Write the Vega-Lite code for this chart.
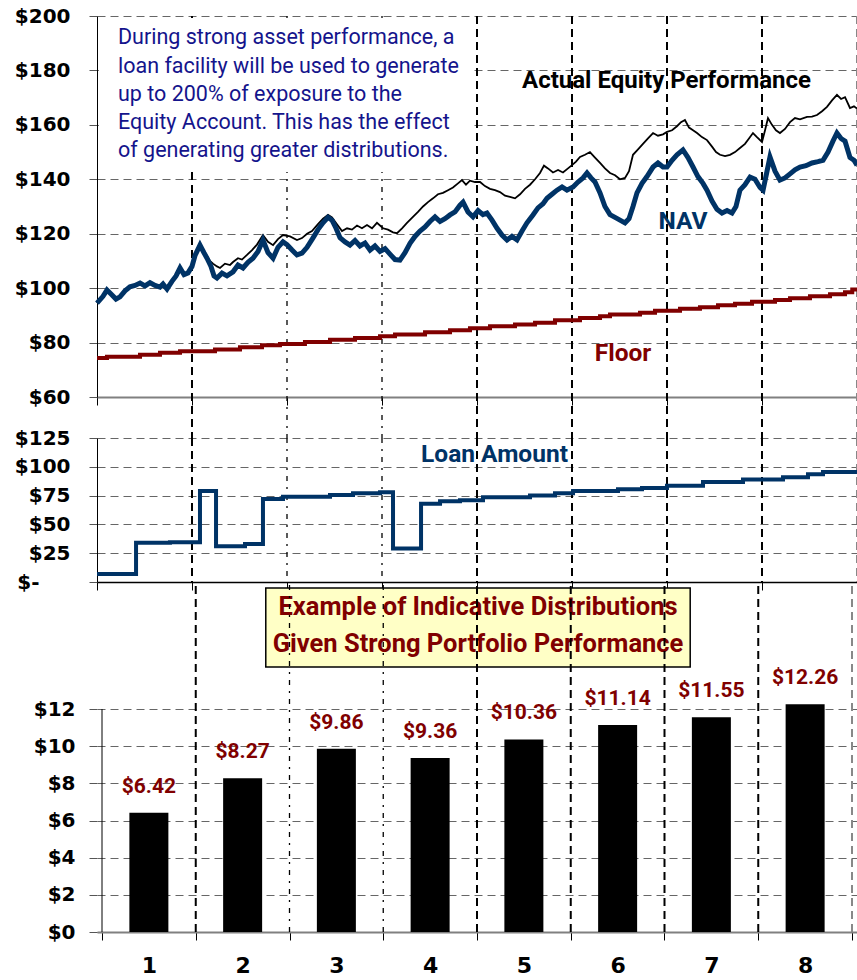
{
  "$schema": "https://vega.github.io/schema/vega-lite/v6.json",
  "padding": {"left": 14, "top": 6, "right": 0, "bottom": 0},
  "background": "white",
  "config": {
    "view": {"stroke": null},
    "axis": {"domainColor": "#000", "tickColor": "#000", "labelColor": "#000", "labelFont": "DejaVu Sans", "labelFontWeight": "bold", "labelFontSize": 20, "title": null},
    "text": {"font": "Roboto"}
  },
  "datasets": {
    "vl": [
      {"t": 1, "yr": 1.5, "top1": 200, "top2": 44.9, "mid1": 125, "mid2": 0, "bot1": 0, "bot2": 18.84},
      {"t": 2, "yr": 2.5, "top1": 200, "top2": 44.9, "mid1": 125, "mid2": 0, "bot1": 0, "bot2": 18.84},
      {"t": 3, "yr": 3.5, "top1": 200, "top2": 44.9, "mid1": 125, "mid2": 0, "bot1": 0, "bot2": 18.84},
      {"t": 4, "yr": 4.5, "top1": 200, "top2": 44.9, "mid1": 125, "mid2": 0, "bot1": 0, "bot2": 18.84},
      {"t": 5, "yr": 5.5, "top1": 200, "top2": 44.9, "mid1": 125, "mid2": 0, "bot1": 0, "bot2": 18.84},
      {"t": 6, "yr": 6.5, "top1": 200, "top2": 44.9, "mid1": 125, "mid2": 0, "bot1": 0, "bot2": 18.84},
      {"t": 7, "yr": 7.5, "top1": 200, "top2": 44.9, "mid1": 125, "mid2": 0, "bot1": 0, "bot2": 18.84},
      {"t": 8, "yr": 8.5, "top1": 200, "top2": 44.9, "mid1": 125, "mid2": 0, "bot1": 0, "bot2": 18.84}
    ],
    "yaxis": [{"yr": 0.5, "lo": 0, "hi": 12}],
    "notebox": [{"x0": 0.02, "x1": 3.947, "y0": 199.3, "y1": 142.7}],
    "notes": [
      {"kind": "note", "t": 0.221, "v": 189.7, "label": "During strong asset performance, a"},
      {"kind": "note", "t": 0.221, "v": 179.1, "label": "loan facility will be used to generate"},
      {"kind": "note", "t": 0.221, "v": 168.8, "label": "up to 200% of exposure to the"},
      {"kind": "note", "t": 0.221, "v": 158.5, "label": "Equity Account. This has the effect"},
      {"kind": "note", "t": 0.221, "v": 148.2, "label": "of generating greater distributions."},
      {"kind": "eq", "t": 5.995, "v": 173.5, "label": "Actual Equity Performance"},
      {"kind": "nav", "t": 6.168, "v": 121.7, "label": "NAV"},
      {"kind": "floor", "t": 5.537, "v": 73.2, "label": "Floor"},
      {"kind": "loan", "t": 4.184, "v": 104.2, "label": "Loan Amount"}
    ],
    "box": [{"x0": 2.247, "x1": 6.774, "y0": 18.51, "y1": 14.26}],
    "boxtext": [
      {"yr": 4.511, "dist": 17.06, "label": "Example of Indicative Distributions"},
      {"yr": 4.511, "dist": 15.09, "label": "Given Strong Portfolio Performance"}
    ],
    "dist": [{"year": 1, "dist": 6.42}, {"year": 2, "dist": 8.27}, {"year": 3, "dist": 9.86}, {"year": 4, "dist": 9.36}, {"year": 5, "dist": 10.36}, {"year": 6, "dist": 11.14}, {"year": 7, "dist": 11.55}, {"year": 8, "dist": 12.26}],
    "nav": [
      {"t":0,"v":94.5},{"t":0.063,"v":97},{"t":0.105,"v":99.3},{"t":0.158,"v":97.5},{"t":0.2,"v":96},{"t":0.242,"v":96.8},{"t":0.295,"v":99},{"t":0.347,"v":100.5},{"t":0.4,"v":101},{"t":0.453,"v":101.9},{"t":0.505,"v":100.8},{"t":0.558,"v":102},{"t":0.611,"v":101},{"t":0.663,"v":100.4},{"t":0.695,"v":101.5},{"t":0.737,"v":99.7},{"t":0.789,"v":102.5},{"t":0.832,"v":104.5},{"t":0.874,"v":107.4},{"t":0.916,"v":105},{"t":0.958,"v":105.6},{"t":1.0,"v":108},{"t":1.032,"v":112},{"t":1.084,"v":115.8},
      {"t":1.126,"v":113},{"t":1.158,"v":111},{"t":1.2,"v":108},{"t":1.232,"v":104.5},{"t":1.263,"v":103.7},{"t":1.316,"v":105.5},{"t":1.368,"v":104.5},{"t":1.432,"v":106},{"t":1.484,"v":108.5},{"t":1.537,"v":107.4},{"t":1.589,"v":109.5},{"t":1.642,"v":111},{"t":1.695,"v":113.5},{"t":1.747,"v":117.7},{"t":1.8,"v":113},{"t":1.853,"v":111},{"t":1.905,"v":115},{"t":1.958,"v":117},{"t":2.0,"v":116},{"t":2.053,"v":114},{"t":2.105,"v":112.2},{"t":2.158,"v":112.9},{"t":2.211,"v":115},{"t":2.274,"v":118.5},{"t":2.326,"v":121.5},{"t":2.379,"v":124},{"t":2.432,"v":126},{"t":2.474,"v":125},{"t":2.516,"v":122},{"t":2.558,"v":118.5},{"t":2.611,"v":117},{"t":2.663,"v":115.8},{"t":2.716,"v":117.5},{"t":2.768,"v":115.5},{"t":2.821,"v":116.6},{"t":2.874,"v":114},{"t":2.926,"v":115.5},{"t":2.979,"v":113.5},{"t":3.032,"v":114.5},{"t":3.084,"v":112.5},{"t":3.137,"v":110.5},{"t":3.189,"v":110.3},{"t":3.242,"v":113},{"t":3.295,"v":116.5},{"t":3.347,"v":119},{"t":3.4,"v":121},{"t":3.453,"v":122.5},{"t":3.505,"v":124.5},{"t":3.558,"v":126.2},{"t":3.611,"v":124.5},{"t":3.663,"v":125.5},{"t":3.716,"v":126.9},{"t":3.768,"v":128},{"t":3.821,"v":130.5},{"t":3.853,"v":131.6},{"t":3.905,"v":128},{"t":3.958,"v":126.2},{"t":4.011,"v":128.5},{"t":4.063,"v":127},{"t":4.105,"v":127.6},{"t":4.158,"v":125},{"t":4.211,"v":122},{"t":4.263,"v":119.5},{"t":4.316,"v":117.7},{"t":4.368,"v":119},{"t":4.421,"v":117.7},{"t":4.474,"v":121},{"t":4.526,"v":124},{"t":4.589,"v":126.9},{"t":4.642,"v":129.5},{"t":4.695,"v":131},{"t":4.737,"v":133},{"t":4.789,"v":134.5},{"t":4.842,"v":136},{"t":4.895,"v":137.2},{"t":4.947,"v":136},{"t":5.011,"v":137.2},{"t":5.063,"v":139},{"t":5.116,"v":140.5},{"t":5.158,"v":142.3},{"t":5.2,"v":140.5},{"t":5.242,"v":139},{"t":5.295,"v":135},{"t":5.347,"v":130},{"t":5.4,"v":127},{"t":5.453,"v":126},{"t":5.505,"v":125},{"t":5.558,"v":124},{"t":5.6,"v":125.5},{"t":5.642,"v":130},{"t":5.684,"v":135},{"t":5.737,"v":138.5},{"t":5.789,"v":141},{"t":5.853,"v":144.5},{"t":5.905,"v":146},{"t":5.958,"v":144.5},{"t":6.0,"v":144.5},{"t":6.053,"v":147},{"t":6.105,"v":149},{"t":6.168,"v":150.8},{"t":6.221,"v":148},{"t":6.274,"v":144.5},{"t":6.326,"v":141},{"t":6.379,"v":138.5},{"t":6.421,"v":136},{"t":6.474,"v":132},{"t":6.526,"v":129},{"t":6.579,"v":127.6},{"t":6.632,"v":128.5},{"t":6.684,"v":127.6},{"t":6.726,"v":130},{"t":6.768,"v":136},{"t":6.821,"v":138},{"t":6.874,"v":140.8},{"t":6.926,"v":140},{"t":6.979,"v":137},{"t":7.011,"v":136},{"t":7.053,"v":143},{"t":7.084,"v":148.2},{"t":7.137,"v":143},{"t":7.189,"v":139.7},{"t":7.242,"v":140.5},{"t":7.295,"v":142},{"t":7.347,"v":143.5},{"t":7.4,"v":144.5},{"t":7.463,"v":145},{"t":7.526,"v":146},{"t":7.589,"v":146.5},{"t":7.642,"v":147},{"t":7.695,"v":150},{"t":7.747,"v":154},{"t":7.789,"v":157},{"t":7.832,"v":155},{"t":7.874,"v":154},{"t":7.926,"v":148},{"t":7.968,"v":147},{"t":8.0,"v":145.2}
    ],
    "eq": [
      {"t":0,"v":94.5},{"t":0.063,"v":97},{"t":0.105,"v":99.3},{"t":0.158,"v":97.5},{"t":0.2,"v":96},{"t":0.242,"v":96.8},{"t":0.295,"v":99},{"t":0.347,"v":100.5},{"t":0.4,"v":101},{"t":0.453,"v":101.9},{"t":0.505,"v":100.8},{"t":0.558,"v":102},{"t":0.611,"v":101},{"t":0.663,"v":100.4},{"t":0.695,"v":101.5},{"t":0.737,"v":99.7},{"t":0.789,"v":102.5},{"t":0.832,"v":104.5},{"t":0.874,"v":107.4},{"t":0.916,"v":105},{"t":0.958,"v":105.6},{"t":1.0,"v":108},{"t":1.032,"v":112},{"t":1.084,"v":115.8},
      {"t":1.137,"v":113},{"t":1.189,"v":110},{"t":1.221,"v":109},{"t":1.263,"v":108},{"t":1.295,"v":107.4},{"t":1.347,"v":109},{"t":1.4,"v":108.5},{"t":1.432,"v":109.6},{"t":1.484,"v":111},{"t":1.526,"v":110.5},{"t":1.579,"v":112.2},{"t":1.632,"v":114},{"t":1.684,"v":116},{"t":1.747,"v":119.5},{"t":1.8,"v":117},{"t":1.853,"v":115.8},{"t":1.905,"v":118},{"t":1.958,"v":119.5},{"t":2.032,"v":119},{"t":2.105,"v":117.7},{"t":2.158,"v":118.4},{"t":2.211,"v":120},{"t":2.263,"v":121},{"t":2.326,"v":123.5},{"t":2.379,"v":125.5},{"t":2.432,"v":126.9},{"t":2.474,"v":126},{"t":2.526,"v":123.5},{"t":2.579,"v":121},{"t":2.632,"v":122},{"t":2.684,"v":121.5},{"t":2.737,"v":123},{"t":2.789,"v":122},{"t":2.842,"v":123.2},{"t":2.895,"v":122},{"t":2.947,"v":124},{"t":3.011,"v":122},{"t":3.063,"v":121.5},{"t":3.116,"v":120.5},{"t":3.158,"v":120.2},{"t":3.211,"v":122},{"t":3.263,"v":124},{"t":3.326,"v":126.2},{"t":3.379,"v":128},{"t":3.432,"v":130},{"t":3.484,"v":131.6},{"t":3.537,"v":133},{"t":3.589,"v":134.5},{"t":3.642,"v":135},{"t":3.695,"v":136},{"t":3.747,"v":137},{"t":3.8,"v":138.5},{"t":3.842,"v":139.7},{"t":3.884,"v":138},{"t":3.926,"v":139.5},{"t":3.979,"v":139},{"t":4.032,"v":139},{"t":4.084,"v":137.5},{"t":4.137,"v":136.5},{"t":4.189,"v":136},{"t":4.242,"v":135.3},{"t":4.295,"v":134},{"t":4.347,"v":133.5},{"t":4.4,"v":133},{"t":4.453,"v":134.5},{"t":4.505,"v":136.5},{"t":4.558,"v":138},{"t":4.611,"v":140},{"t":4.663,"v":142.3},{"t":4.705,"v":145},{"t":4.747,"v":144},{"t":4.8,"v":142.5},{"t":4.853,"v":143.4},{"t":4.905,"v":142.5},{"t":4.958,"v":144},{"t":5.0,"v":145.2},{"t":5.042,"v":146.5},{"t":5.084,"v":148.2},{"t":5.137,"v":149},{"t":5.189,"v":150},{"t":5.242,"v":148},{"t":5.295,"v":146},{"t":5.347,"v":144},{"t":5.4,"v":142.3},{"t":5.453,"v":141.5},{"t":5.505,"v":140},{"t":5.558,"v":140.5},{"t":5.6,"v":143},{"t":5.642,"v":149},{"t":5.695,"v":151},{"t":5.747,"v":153},{"t":5.8,"v":155},{"t":5.853,"v":157},{"t":5.905,"v":156},{"t":5.958,"v":156.5},{"t":6.0,"v":157.4},{"t":6.053,"v":158},{"t":6.105,"v":159.5},{"t":6.147,"v":161},{"t":6.189,"v":161.8},{"t":6.232,"v":159},{"t":6.274,"v":158},{"t":6.316,"v":157},{"t":6.368,"v":155.5},{"t":6.421,"v":154.4},{"t":6.474,"v":152},{"t":6.516,"v":150},{"t":6.558,"v":149},{"t":6.611,"v":148.5},{"t":6.663,"v":149},{"t":6.716,"v":150},{"t":6.768,"v":151.5},{"t":6.821,"v":153},{"t":6.863,"v":155},{"t":6.905,"v":157},{"t":6.947,"v":155.5},{"t":7.0,"v":153.7},{"t":7.032,"v":158},{"t":7.063,"v":162.5},{"t":7.105,"v":160},{"t":7.147,"v":158},{"t":7.189,"v":157},{"t":7.242,"v":158.5},{"t":7.295,"v":161},{"t":7.347,"v":162.5},{"t":7.4,"v":162},{"t":7.474,"v":162.9},{"t":7.526,"v":163},{"t":7.579,"v":163.6},{"t":7.632,"v":165},{"t":7.684,"v":166.6},{"t":7.737,"v":169},{"t":7.789,"v":171},{"t":7.832,"v":169.5},{"t":7.874,"v":170.2},{"t":7.926,"v":166.2},{"t":7.968,"v":166.8},{"t":8.0,"v":166}
    ],
    "floor": [
      {"t":0,"v":74.3},{"t":0.105,"v":74.8},{"t":0.453,"v":75.5},{"t":0.663,"v":76.3},{"t":0.874,"v":76.8},{"t":1.242,"v":77.5},{"t":1.505,"v":78.3},{"t":1.737,"v":79},{"t":1.926,"v":79.5},{"t":2.189,"v":80.2},{"t":2.453,"v":81},{"t":2.716,"v":81.7},{"t":2.979,"v":82.3},{"t":3.137,"v":83},{"t":3.453,"v":83.8},{"t":3.716,"v":84.5},{"t":3.926,"v":85.3},{"t":4.137,"v":86},{"t":4.4,"v":86.6},{"t":4.611,"v":87.3},{"t":4.821,"v":88.2},{"t":5.084,"v":89},{"t":5.295,"v":89.7},{"t":5.4,"v":90.3},{"t":5.716,"v":91},{"t":5.874,"v":91.7},{"t":6.137,"v":92.4},{"t":6.347,"v":93},{"t":6.537,"v":93.7},{"t":6.716,"v":94.3},{"t":6.895,"v":95},{"t":7.137,"v":95.6},{"t":7.295,"v":96.3},{"t":7.505,"v":97},{"t":7.716,"v":97.8},{"t":7.874,"v":98.5},{"t":7.95,"v":99.5},{"t":8.0,"v":99.5}
    ],
    "loan": [
      {"t":0,"v":7},{"t":0.411,"v":34},{"t":0.768,"v":34.5},{"t":1.084,"v":79},{"t":1.253,"v":31},{"t":1.558,"v":33},{"t":1.747,"v":72},{"t":1.958,"v":74},{"t":2.453,"v":75.5},{"t":2.695,"v":77},{"t":2.979,"v":78},{"t":3.116,"v":29},{"t":3.411,"v":68},{"t":3.611,"v":70},{"t":3.821,"v":71},{"t":4.063,"v":73.5},{"t":4.558,"v":75},{"t":4.821,"v":77},{"t":5.011,"v":79},{"t":5.484,"v":80.5},{"t":5.737,"v":81.7},{"t":6.0,"v":83.5},{"t":6.379,"v":86.8},{"t":6.8,"v":89},{"t":7.221,"v":91},{"t":7.484,"v":93.6},{"t":7.642,"v":95.5},{"t":8.0,"v":95.5}
    ]
  },
  "vconcat": [
    {
      "width": 760, "height": 381,
      "encoding": {
        "x": {"field": "t", "type": "quantitative", "scale": {"domain": [0, 8], "nice": false},
          "axis": {"values": [0,1,2,3,4,5,6,7,8], "labels": false, "grid": false, "tickSize": 8, "domainColor": "#808080", "domainWidth": 2}},
        "y": {"field": "v", "type": "quantitative", "scale": {"domain": [60, 200], "nice": false, "zero": false},
          "axis": {"values": [60,80,100,120,140,160,180,200], "labelExpr": "'$' + datum.value", "grid": true, "gridDash": [8,5], "gridColor": "#666", "tickSize": 8, "tickColor": "#555", "labelPadding": 19}}
      },
      "layer": [
        {"data": {"name": "vl"}, "mark": {"type": "rule"},
          "encoding": {"y": {"field": "top1", "type": "quantitative"}, "y2": {"field": "top2"},
            "color": {"condition": {"test": "datum.t == 8", "value": "#888888"}, "value": "#000000"},
            "strokeDash": {"condition": {"test": "datum.t == 2 || datum.t == 3", "value": [5,6,2,6]}, "value": [8,5]},
            "strokeWidth": {"condition": {"test": "datum.t == 2 || datum.t == 3", "value": 1.3}, "value": 2}}},
        {"data": {"name": "notebox"}, "mark": {"type": "rect", "fill": "#ffffff"},
          "encoding": {"x": {"field": "x0", "type": "quantitative"}, "x2": {"field": "x1"}, "y": {"field": "y0", "type": "quantitative"}, "y2": {"field": "y1"}}},
        {"data": {"name": "floor"}, "mark": {"type": "line", "interpolate": "step-after", "color": "#800000", "strokeWidth": 4}},
        {"data": {"name": "eq"}, "mark": {"type": "line", "color": "#000000", "strokeWidth": 1.8}},
        {"data": {"name": "nav"}, "mark": {"type": "line", "color": "#003366", "strokeWidth": 5}},
        {"data": {"name": "notes"}, "transform": [{"filter": "datum.kind == 'note'"}],
          "mark": {"type": "text", "align": "left", "baseline": "alphabetic", "font": "Roboto", "fontSize": 21.5, "color": "#14148c"},
          "encoding": {"text": {"field": "label"}}},
        {"data": {"name": "notes"}, "transform": [{"filter": "datum.kind == 'eq'"}],
          "mark": {"type": "text", "align": "center", "baseline": "alphabetic", "font": "Roboto", "fontWeight": "bold", "fontSize": 24, "color": "#000000"},
          "encoding": {"text": {"field": "label"}}},
        {"data": {"name": "notes"}, "transform": [{"filter": "datum.kind == 'nav'"}],
          "mark": {"type": "text", "align": "center", "baseline": "alphabetic", "font": "Roboto", "fontWeight": "bold", "fontSize": 24.5, "color": "#003366"},
          "encoding": {"text": {"field": "label"}}},
        {"data": {"name": "notes"}, "transform": [{"filter": "datum.kind == 'floor'"}],
          "mark": {"type": "text", "align": "center", "baseline": "alphabetic", "font": "Roboto", "fontWeight": "bold", "fontSize": 24.5, "color": "#800000"},
          "encoding": {"text": {"field": "label"}}}
      ]
    },
    {
      "width": 760, "height": 144,
      "encoding": {
        "x": {"field": "t", "type": "quantitative", "scale": {"domain": [0, 8], "nice": false},
          "axis": {"values": [0,1,2,3,4,5,6,7,8], "labels": false, "grid": false, "tickSize": 8, "domainColor": "#000", "domainWidth": 1.5}},
        "y": {"field": "v", "type": "quantitative", "scale": {"domain": [0, 125], "nice": false},
          "axis": {"values": [0,25,50,75,100,125], "labelExpr": "datum.value == 0 ? '$-' : '$' + datum.value", "grid": true, "gridDash": [8,5], "gridColor": "#666", "tickSize": 8, "tickColor": "#555",
            "labelPadding": {"condition": {"test": "datum.value == 0", "value": 50}, "value": 19}}}
      },
      "layer": [
        {"data": {"name": "vl"}, "mark": {"type": "rule"},
          "encoding": {"y": {"field": "mid1", "type": "quantitative"}, "y2": {"field": "mid2"},
            "color": {"condition": {"test": "datum.t == 8", "value": "#888888"}, "value": "#000000"},
            "strokeDash": {"condition": {"test": "datum.t == 2 || datum.t == 3", "value": [5,6,2,6]}, "value": [8,5]},
            "strokeWidth": {"condition": {"test": "datum.t == 2 || datum.t == 3", "value": 1.3}, "value": 2}}},
        {"data": {"name": "loan"}, "mark": {"type": "line", "interpolate": "step-after", "color": "#003366", "strokeWidth": 4}},
        {"data": {"name": "notes"}, "transform": [{"filter": "datum.kind == 'loan'"}],
          "mark": {"type": "text", "align": "center", "baseline": "alphabetic", "font": "Roboto", "fontWeight": "bold", "fontSize": 24.5, "color": "#003366"},
          "encoding": {"text": {"field": "label"}}}
      ]
    },
    {
      "width": 760, "height": 309,
      "encoding": {
        "x": {"field": "year", "type": "quantitative", "scale": {"domain": [0.5, 8.5], "nice": false, "zero": false},
          "axis": {"values": [0.5,1,1.5,2,2.5,3,3.5,4,4.5,5,5.5,6,6.5,7,7.5,8,8.5], "labelExpr": "datum.value % 1 == 0 ? datum.value : ''",
            "tickOpacity": {"condition": {"test": "datum.value % 1 == 0", "value": 0}, "value": 1},
            "labelFontSize": 22, "labelPadding": 15, "labelOverlap": false, "labelFlush": false, "grid": false, "tickSize": 8, "domainColor": "#808080", "domainWidth": 2}},
        "y": {"field": "dist", "type": "quantitative", "scale": {"domain": [0, 16.628], "nice": false},
          "axis": {"values": [0,2,4,6,8,10,12], "labelExpr": "'$' + datum.value", "domain": false, "grid": true, "gridDash": [8,5], "gridColor": "#666", "tickSize": 8, "tickColor": "#555", "labelPadding": 14}}
      },
      "layer": [
        {"data": {"name": "box"}, "mark": {"type": "rect", "fill": "#000000", "xOffset": 2.5, "yOffset": 2.5},
          "encoding": {"x": {"field": "x0", "type": "quantitative"}, "x2": {"field": "x1"}, "y": {"field": "y0", "type": "quantitative"}, "y2": {"field": "y1"}}},
        {"data": {"name": "box"}, "mark": {"type": "rect", "fill": "#ffffc6", "stroke": "#000000", "strokeWidth": 1.5},
          "encoding": {"x": {"field": "x0", "type": "quantitative"}, "x2": {"field": "x1"}, "y": {"field": "y0", "type": "quantitative"}, "y2": {"field": "y1"}}},
        {"data": {"name": "boxtext"}, "mark": {"type": "text", "align": "center", "baseline": "alphabetic", "font": "Roboto", "fontWeight": "bold", "fontSize": 25.5, "color": "#800000"},
          "encoding": {"x": {"field": "yr", "type": "quantitative"}, "text": {"field": "label"}}},
        {"data": {"name": "vl"}, "mark": {"type": "rule"},
          "encoding": {"x": {"field": "yr", "type": "quantitative"}, "y": {"field": "bot1", "type": "quantitative"}, "y2": {"field": "bot2"},
            "color": {"condition": {"test": "datum.t == 8", "value": "#888888"}, "value": "#000000"},
            "strokeDash": {"condition": {"test": "datum.t == 2 || datum.t == 3", "value": [5,6,2,6]}, "value": [8,5]},
            "strokeWidth": {"condition": {"test": "datum.t == 2 || datum.t == 3", "value": 1.3}, "value": 2}}},
        {"data": {"name": "yaxis"}, "mark": {"type": "rule", "color": "#000000", "strokeWidth": 1},
          "encoding": {"x": {"field": "yr", "type": "quantitative"}, "y": {"field": "lo", "type": "quantitative"}, "y2": {"field": "hi"}}},
        {"data": {"name": "dist"}, "mark": {"type": "bar", "width": 39, "color": "#000000"}},
        {"data": {"name": "dist"}, "mark": {"type": "text", "align": "center", "baseline": "alphabetic", "dy": -20, "font": "Roboto", "fontWeight": "bold", "fontSize": 21, "color": "#800000"},
          "encoding": {"text": {"field": "dist", "format": "$.2f"}}}
      ]
    }
  ],
  "spacing": 41,
  "bounds": "flush"
}
